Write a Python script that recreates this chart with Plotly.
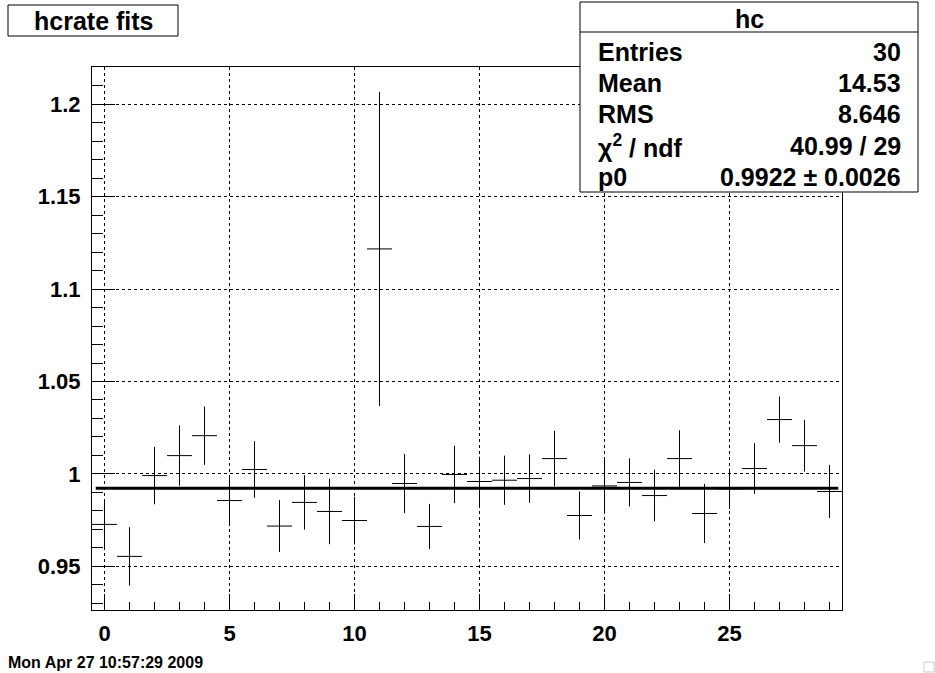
import plotly.graph_objects as go

# Data
bins = list(range(30))
values = [0.9727, 0.9554, 0.9991, 1.0099, 1.0207, 0.9856, 1.0024, 0.9718, 0.9846, 0.9797,
          0.9748, 1.1217, 0.9948, 0.9716, 0.9997, 0.9959, 0.9966, 0.9975, 1.0083, 0.9775,
          0.9935, 0.9954, 0.9883, 1.0083, 0.9786, 0.9919, 1.0029, 1.0294, 1.0153, 0.9905]
errors = [0.0124, 0.0158, 0.0155, 0.0163, 0.0158, 0.0133, 0.0153, 0.0140, 0.0147, 0.0177,
          0.0129, 0.0850, 0.0160, 0.0122, 0.0155, 0.0134, 0.0133, 0.0131, 0.0150, 0.0130,
          0.0146, 0.0130, 0.0140, 0.0153, 0.0160, 0.0110, 0.0137, 0.0125, 0.0140, 0.0144]
bin_half_width = [0.5] * 30
fit_p0 = 0.9922
fit_x = [-0.35, 29.35]
y_ticks = [0.95, 1.0, 1.05, 1.1, 1.15, 1.2]
y_tick_text = ["0.95", "1", "1.05", "1.1", "1.15", "1.2"]
x_ticks = [0, 5, 10, 15, 20, 25]

stats_labels = ["Entries", "Mean", "RMS", "χ<sup>2</sup> / ndf", "p0"]
stats_values = ["30", "14.53", "8.646", "40.99 / 29", "0.9922 ± 0.0026"]

W, H = 935, 673
L, R, T, B = 92, 842, 67, 610
FONT = "Liberation Sans, Arial, sans-serif"


def px(x):
    return (x - L) / (R - L)


def py(y):
    return (B - y) / (B - T)


fig = go.Figure()
fig.add_trace(go.Scatter(
    x=bins, y=values, mode="markers",
    marker=dict(size=1, color="black", opacity=0),
    error_x=dict(type="data", array=bin_half_width, color="black", thickness=1, width=0),
    error_y=dict(type="data", array=errors, color="black", thickness=1, width=0),
    showlegend=False, hoverinfo="x+y",
))
fig.add_trace(go.Scatter(
    x=fit_x, y=[fit_p0, fit_p0], mode="lines",
    line=dict(color="black", width=3), showlegend=False,
))

shapes = []
annotations = []

# title box
shapes.append(dict(type="rect", xref="paper", yref="paper",
                   x0=px(8), x1=px(178), y0=py(36), y1=py(5),
                   line=dict(color="black", width=1), fillcolor="white", layer="above"))
annotations.append(dict(xref="paper", yref="paper", x=px(93), y=py(21),
                        text="hcrate fits", showarrow=False, xanchor="center", yanchor="middle",
                        font=dict(family=FONT, size=25, color="black", weight="bold")))

# stats box
shapes.append(dict(type="rect", xref="paper", yref="paper",
                   x0=px(580), x1=px(918), y0=py(192), y1=py(2),
                   line=dict(color="black", width=1), fillcolor="white", layer="above"))
shapes.append(dict(type="line", xref="paper", yref="paper",
                   x0=px(580), x1=px(918), y0=py(32), y1=py(32),
                   line=dict(color="black", width=1), layer="above"))
annotations.append(dict(xref="paper", yref="paper", x=px(749), y=py(19),
                        text="hc", showarrow=False, xanchor="center", yanchor="middle",
                        font=dict(family=FONT, size=25, color="black", weight="bold")))
row_y = [52, 83, 114, 146, 177]
for lab, val, yy in zip(stats_labels, stats_values, row_y):
    annotations.append(dict(xref="paper", yref="paper", x=px(596), y=py(yy),
                            text=lab, showarrow=False, xanchor="left", yanchor="middle",
                            font=dict(family=FONT, size=25, color="black", weight="bold")))
    annotations.append(dict(xref="paper", yref="paper", x=px(903), y=py(yy),
                            text=val, showarrow=False, xanchor="right", yanchor="middle",
                            font=dict(family=FONT, size=25, color="black", weight="bold")))

# date stamp
annotations.append(dict(xref="paper", yref="paper", x=px(6), y=py(662),
                        text="Mon Apr 27 10:57:29 2009", showarrow=False,
                        xanchor="left", yanchor="middle",
                        font=dict(family=FONT, size=16, color="black", weight="bold")))
# small corner box
shapes.append(dict(type="rect", xref="paper", yref="paper",
                   x0=px(924), x1=px(934), y0=py(672), y1=py(662),
                   line=dict(color="#cccccc", width=1), fillcolor="white", layer="above"))

fig.update_layout(
    width=W, height=H,
    margin=dict(l=L, r=W - R, t=T, b=H - B, pad=0),
    paper_bgcolor="white", plot_bgcolor="white",
    shapes=shapes, annotations=annotations,
    xaxis=dict(range=[-0.5, 29.5], tickvals=x_ticks, ticks="inside", ticklen=16,
               tickcolor="black", tickwidth=1,
               minor=dict(dtick=1, tick0=0, ticks="inside", ticklen=8, tickcolor="black",
                          showgrid=False),
               showgrid=True, gridcolor="black", griddash="dot", gridwidth=1,
               showline=True, linecolor="black", linewidth=1, mirror=True,
               zeroline=False, ticklabelstandoff=4,
               tickfont=dict(family=FONT, size=22, color="black", weight="bold")),
    yaxis=dict(range=[0.9264, 1.2201], tickvals=y_ticks, ticktext=y_tick_text,
               ticks="inside", ticklen=23, tickcolor="black", tickwidth=1,
               minor=dict(dtick=0.01, tick0=0.9, ticks="inside", ticklen=11,
                          tickcolor="black", showgrid=False),
               showgrid=True, gridcolor="black", griddash="dot", gridwidth=1,
               showline=True, linecolor="black", linewidth=1, mirror=True,
               zeroline=False, ticklabelstandoff=6,
               tickfont=dict(family=FONT, size=22, color="black", weight="bold")),
)

fig.write_html("out.html", config={"displayModeBar": False},
               post_script="document.body.style.margin='0';")
